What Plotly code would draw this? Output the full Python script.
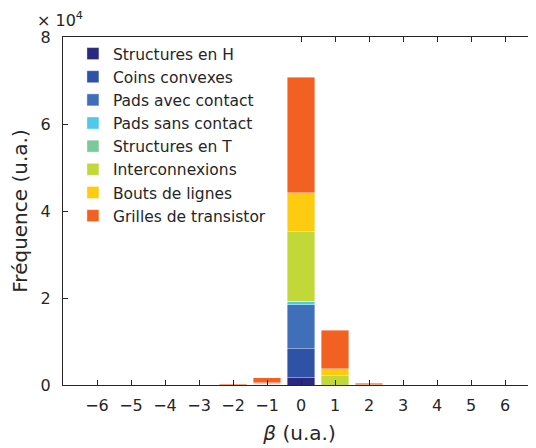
import plotly.graph_objects as go

beta = [-6, -5, -4, -3, -2, -1, 0, 1, 2, 3, 4, 5, 6]

structures_h = [0, 0, 0, 0, 0, 20, 1700, 0, 0, 0, 0, 0, 0]
coins_convexes = [0, 0, 0, 0, 0, 50, 6650, 0, 0, 0, 0, 0, 0]
pads_avec = [0, 0, 0, 0, 0, 50, 10050, 0, 0, 0, 0, 0, 0]
pads_sans = [0, 0, 0, 0, 0, 60, 700, 0, 0, 0, 0, 0, 0]
structures_t = [0, 0, 0, 0, 10, 150, 100, 0, 0, 0, 0, 0, 0]
interconnexions = [0, 0, 0, 10, 30, 150, 16050, 2150, 20, 10, 0, 0, 0]
bouts_lignes = [0, 0, 0, 10, 20, 80, 9000, 1530, 30, 10, 0, 0, 0]
grilles = [50, 50, 50, 60, 250, 1150, 26500, 8960, 410, 80, 50, 50, 50]

series = [
    ("Structures en H", structures_h, "#29297F"),
    ("Coins convexes", coins_convexes, "#2E52A5"),
    ("Pads avec contact", pads_avec, "#3E6FB8"),
    ("Pads sans contact", pads_sans, "#4FC8EA"),
    ("Structures en T", structures_t, "#7CC89A"),
    ("Interconnexions", interconnexions, "#C2D738"),
    ("Bouts de lignes", bouts_lignes, "#FDCB10"),
    ("Grilles de transistor", grilles, "#F26122"),
]

yticks = [0, 20000, 40000, 60000, 80000]

fig = go.Figure()
for name, vals, col in series:
    fig.add_trace(go.Bar(x=beta, y=vals, name=name, width=0.82,
                         marker=dict(color=col, line=dict(color="white", width=0.4))))

# page body has an 8px margin, so the figure is shrunk by 8px and margins shifted
font = "DejaVu Sans"
fig.update_layout(
    width=528, height=440,
    barmode="stack",
    plot_bgcolor="white", paper_bgcolor="white",
    margin=dict(l=55, r=0, t=29, b=63),
    font=dict(family=font, size=16, color="#262626"),
    showlegend=True,
    legend=dict(x=0.021, y=1.0, xanchor="left", yanchor="top",
                traceorder="normal", bgcolor="white",
                font=dict(size=15.5, color="#262626"), tracegroupgap=0),
)
fig.update_xaxes(
    range=[-7, 6.91], tickvals=beta, showgrid=False, zeroline=False,
    showline=True, linecolor="#262626", linewidth=1, mirror="allticks",
    ticks="inside", ticklen=5, tickcolor="#262626", ticklabelstandoff=6,
    title=dict(text="<i>β</i> (u.a.)", font=dict(size=20), standoff=11),
)
fig.update_yaxes(
    range=[0, 80000], tickvals=yticks, ticktext=[str(v // 10000) for v in yticks],
    showgrid=False, zeroline=False,
    showline=True, linecolor="#262626", linewidth=1,
    ticks="inside", ticklen=5, tickcolor="#262626", ticklabelstandoff=8,
    title=dict(text="Fréquence (u.a.)", font=dict(size=20), standoff=8),
)
fig.add_annotation(text="× 10<sup>4</sup>", xref="paper", yref="paper",
                   x=-0.06, y=1, xanchor="left", yanchor="bottom", yshift=5,
                   showarrow=False, font=dict(size=16, color="#262626"))

fig.write_html("out.html")
